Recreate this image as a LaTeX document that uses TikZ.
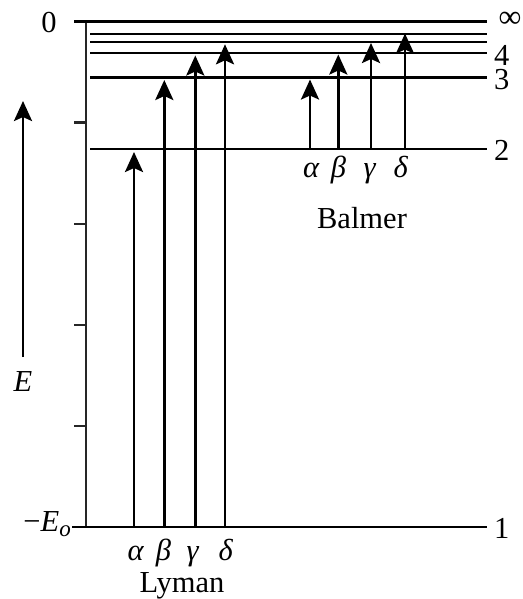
\documentclass[tikz,border=0pt]{standalone}
\usepackage{fontspec}
\setmainfont{Liberation Serif}
\usetikzlibrary{arrows.meta}
\begin{document}
\begin{tikzpicture}[x=1pt,y=-1pt,
  lvl/.style={line width=2.7pt},
  axisline/.style={line width=2.4pt, black!85},
  trans/.style={line width=2.8pt,-{Stealth[length=20pt,width=18pt,inset=4pt]}},
  lab/.style={font=\fontsize{30.5}{32}\selectfont, inner sep=0pt},
  ]
\useasboundingbox (0,0) rectangle (522,599);
% axis and ticks
\coordinate (axT) at (86,21.7); \coordinate (axB) at (86,527);
\draw[axisline] (axT) -- (axB);
\foreach \y [count=\i] in {122.7,223.8,324.9,426} {
  \coordinate (tk\i a) at (74,\y); \coordinate (tk\i b) at (86,\y);
  \draw[axisline] (tk\i a) -- (tk\i b);
}
% levels
\coordinate (Linf-l) at (74,21.7); \coordinate (Linf-r) at (487,21.7);
\coordinate (L6-l) at (90,34); \coordinate (L6-r) at (487,34);
\coordinate (L5-l) at (90,42); \coordinate (L5-r) at (487,42);
\coordinate (L4-l) at (90,53); \coordinate (L4-r) at (487,53);
\coordinate (L3-l) at (90,77.5); \coordinate (L3-r) at (487,77.5);
\coordinate (L2-l) at (90,149); \coordinate (L2-r) at (487,149);
\coordinate (L1-l) at (72,527); \coordinate (L1-r) at (487,527);
\draw[lvl] (Linf-l) -- (Linf-r);
\draw[lvl] (L6-l) -- (L6-r);
\draw[lvl] (L5-l) -- (L5-r);
\draw[lvl] (L4-l) -- (L4-r);
\draw[lvl] (L3-l) -- (L3-r);
\draw[lvl] (L2-l) -- (L2-r);
\draw[lvl] (L1-l) -- (L1-r);
% level labels
\node[lab] (ninf) at (510,20) {\scalebox{1.05}{∞}};
\node[lab, anchor=west] (n4) at (494,55) {4};
\node[lab, anchor=west] (n3) at (494,80) {3};
\node[lab, anchor=west] (n2) at (494,150) {2};
\node[lab, anchor=west] (n1) at (494,528) {1};
\node[lab] (zero) at (49,23) {0};
\node[lab, anchor=east] (emin) at (71,524) {−\textit{E}\raisebox{-0.35ex}{\fontsize{23}{23}\selectfont\textit{o}}};
% E axis arrow
\coordinate (Ea) at (23,357); \coordinate (Eb) at (23,101);
\draw[trans] (Ea) -- (Eb);
\node[lab] (Elab) at (23,382) {\textit{E}};
% Lyman
\coordinate (lya0) at (134,527); \coordinate (lya1) at (134,152);
\coordinate (lyb0) at (164.3,527); \coordinate (lyb1) at (164.3,80);
\coordinate (lyg0) at (195.3,527); \coordinate (lyg1) at (195.3,55.5);
\coordinate (lyd0) at (225,527); \coordinate (lyd1) at (225,44.3);
\draw[trans] (lya0) -- (lya1);
\draw[trans] (lyb0) -- (lyb1);
\draw[trans] (lyg0) -- (lyg1);
\draw[trans] (lyd0) -- (lyd1);
\node[lab, anchor=base] (lyal) at (136,560) {\textit{α}};
\node[lab, anchor=base] (lybl) at (163.5,560) {\textit{β}};
\node[lab, anchor=base] (lygl) at (193,560) {\textit{γ}};
\node[lab, anchor=base] (lydl) at (226,560) {\textit{δ}};
\node[lab, anchor=base] (lyman) at (182,592) {Lyman};
% Balmer
\coordinate (baa0) at (310,149); \coordinate (baa1) at (310,79.5);
\coordinate (bab0) at (338.3,149); \coordinate (bab1) at (338.3,54.5);
\coordinate (bag0) at (371,149); \coordinate (bag1) at (371,43);
\coordinate (bad0) at (405,149); \coordinate (bad1) at (405,33.5);
\draw[trans] (baa0) -- (baa1);
\draw[trans] (bab0) -- (bab1);
\draw[trans] (bag0) -- (bag1);
\draw[trans] (bad0) -- (bad1);
\node[lab, anchor=base] (baal) at (311.5,177) {\textit{α}};
\node[lab, anchor=base] (babl) at (338.5,177) {\textit{β}};
\node[lab, anchor=base] (bagl) at (370,177) {\textit{γ}};
\node[lab, anchor=base] (badl) at (401,177) {\textit{δ}};
\node[lab, anchor=base] (balmer) at (362,228) {Balmer};
\end{tikzpicture}
\end{document}
